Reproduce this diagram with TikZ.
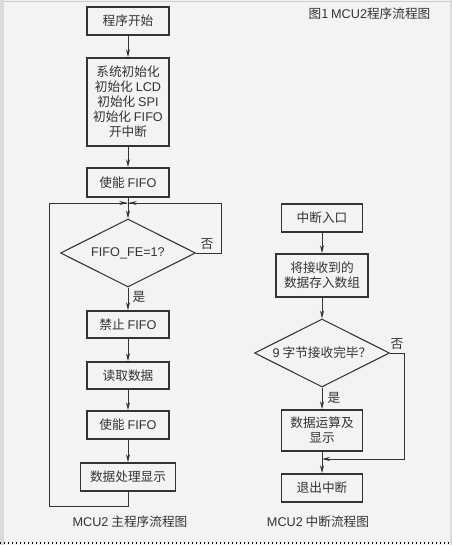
\documentclass[tikz,border=0pt]{standalone}
\usepackage{fontspec}
\setmainfont{Noto Sans CJK SC}
\newfontfamily\lat{Liberation Sans}
\usetikzlibrary{shapes.geometric,arrows.meta}
\definecolor{bg}{HTML}{F3F3F3}
\definecolor{ink}{HTML}{333333}
\tikzset{
  every node/.style={text=ink, font=\fontsize{9.5}{11.3}\selectfont},
  box/.style={draw=ink, line width=1.2pt, fill=bg, inner sep=0pt, align=center},
  dia/.style={draw=ink, line width=0.8pt, fill=bg, diamond, inner sep=0pt,
    minimum width=101.25pt, minimum height=51pt},
  flow/.style={draw=ink, line width=0.6pt, -{Stealth[length=6pt,width=3pt]}},
  seg/.style={draw=ink, line width=0.6pt},
  lbl/.style={inner sep=0pt}
}
\begin{document}
\begin{tikzpicture}[x=0.75pt,y=-0.75pt]
\useasboundingbox (0,0) rectangle (452,545);
% frame
\fill[bg] (0,0) rectangle (452,545);
\fill[black!14] (0,0) rectangle (4,545);
\fill[black!14] (450,0) rectangle (452,545);
\draw[black!20, line width=0.6pt] (4,1) -- (450,1);
\draw[black, line width=1pt, dotted] (0,543) -- (452,543);
% title
\node[lbl] (title) at (369.5,14) {图1 {\lat MCU2}程序流程图};
% main flow
\node[box, minimum width=61.5pt, minimum height=21pt] (start) at (128,21) {程序开始};
\node[box, minimum width=61.5pt, minimum height=66pt] (init) at (128,102)
  {系统初始化\\初始化 {\lat LCD}\\初始化 {\lat SPI}\\初始化 {\lat FIFO}\\开中断};
\node[box, minimum width=61.5pt, minimum height=21.75pt] (en1) at (128,182.5) {使能 {\lat FIFO}};
\node[dia] (d1) at (128,253) {};
\node[lbl] (d1t) at (d1.center) {{\lat FIFO\_FE=1?}};
\node[box, minimum width=61.5pt, minimum height=20.25pt] (dis) at (128,324.5) {禁止 {\lat FIFO}};
\node[box, minimum width=61.5pt, minimum height=20.25pt] (read) at (128,375.5) {读取数据};
\node[box, minimum width=61.5pt, minimum height=21pt] (en2) at (128,425) {使能 {\lat FIFO}};
\node[box, minimum width=71.25pt, minimum height=21pt] (proc) at (128,477) {数据处理显示};
\coordinate (m) at (128,203);
\coordinate (lt) at (49,203);
\coordinate (lb) at (49,506);
\coordinate (pb) at (128,506);
\coordinate (rt) at (221,203);
\coordinate (rm) at (221,253);
\draw[flow] (start) -- (init);
\draw[flow] (init) -- (en1);
\draw[flow] (en1) -- (d1.north);
\draw[flow] (d1.south) -- (dis);
\draw[flow] (dis) -- (read);
\draw[flow] (read) -- (en2);
\draw[flow] (en2) -- (proc);
\draw[seg] (proc.south) -- (pb) -- (lb) -- (lt) -- ([xshift=-0.5]m);
\draw[flow] ([xshift=-20]m) -- ([xshift=-0.5]m);
\draw[seg] (d1.east) -- (rm) -- (rt) -- ([xshift=0.5]m);
\draw[flow] ([xshift=20]m) -- ([xshift=0.5]m);
\node[lbl] (no1) at (207,244) {否};
\node[lbl] (yes1) at (139,297) {是};
% interrupt flow
\node[box, minimum width=60.75pt, minimum height=21pt] (int) at (322,218) {中断入口};
\node[box, minimum width=69pt, minimum height=32.25pt] (store) at (322,275.5) {将接收到的\\数据存入数组};
\node[dia] (d2) at (322,353) {};
\node[lbl] (d2t) at (d2.center) {{\lat 9} 字节接收完毕？};
\node[box, minimum width=60.75pt, minimum height=30.75pt] (calc) at (322,430.5) {数据运算及\\显示};
\node[box, minimum width=60.75pt, minimum height=21pt] (exit) at (322,488) {退出中断};
\coordinate (r1) at (404,353);
\coordinate (r2) at (404,459);
\coordinate (j) at (322,459);
\draw[flow] (int) -- (store);
\draw[flow] (store) -- (d2.north);
\draw[flow] (d2.south) -- (calc);
\draw[flow] (calc) -- (exit);
\draw[flow] (d2.east) -- (r1) -- (r2) -- (j);
\node[lbl] (no2) at (397,344) {否};
\node[lbl] (yes2) at (334,398) {是};
% captions
\node[lbl] (cap1) at (130,522) {{\lat MCU2} 主程序流程图};
\node[lbl] (cap2) at (318,522) {{\lat MCU2} 中断流程图};
\end{tikzpicture}
\end{document}
